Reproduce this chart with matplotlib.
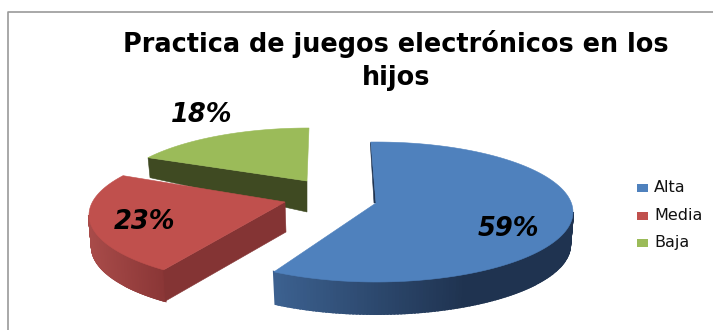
import numpy as np
import matplotlib
matplotlib.use('Agg')
import matplotlib.pyplot as plt
from matplotlib.colors import to_rgb

categories = ['Alta', 'Media', 'Baja']
values = [59, 23, 18]

colours = ['#4F81BD', '#C0504D', '#9BBB59']

# geometry of the exploded pie, in pixels
rx = 197
ry = 70
centres = [(376, 212), (286, 215), (309, 198)]
apexes = [(376, 203), (285, 202), (307, 181)]
depths = [33, 32, 31]
# screen angle correction for the perspective (start, end) in degrees
skew = [(-1.5, -1.2), (6, 9), (10, 0)]
wall_ends = [('#3C6190', '#1F3350'), ('#A84B49', '#8A3636'), ('#3F4A22', '#3F4A22')]
radial_colours = ['#1F3350', '#843434', '#3F4A22']
label_pos = [(508, 229), (145, 222), (202, 115)]


def arc(centre, t0, t1, scale=1.0, drop=0, n=120):
    t = np.radians(np.linspace(t0, t1, n))
    x = centre[0] + scale * rx * np.sin(t)
    y = centre[1] - scale * ry * np.cos(t) + drop
    return x, y


def outer_wall(ax, centre, t0, t1, depth, ends):
    # shade the curved side in narrow strips
    xa, ya = arc(centre, t0, t1)
    xb, yb = arc(centre, t0, t1, scale=0.985, drop=depth)
    c0 = np.array(to_rgb(ends[0]))
    c1 = np.array(to_rgb(ends[1]))
    lo, hi = xa.min(), min(xa.max(), centre[0] + 90)
    for i in range(len(xa) - 1):
        # darkest towards the right of the front edge
        f = np.clip((xa[i] - lo) / max(hi - lo, 1), 0, 1)
        c = c0 + (c1 - c0) * f
        ax.fill([xa[i], xa[i + 1], xb[i + 1], xb[i]],
                [ya[i], ya[i + 1], yb[i + 1], yb[i]],
                color=c, lw=1.5)


fig = plt.figure(figsize=(7.13, 3.30), dpi=100)
ax = fig.add_axes([0, 0, 1, 1])
ax.set_xlim(0, 713)
ax.set_ylim(330, 0)
ax.axis('off')

# chart frame
ax.plot([7.5, 7.5, 713], [330, 12, 12], color='#9A9A9A', lw=1.2)

# angles of each slice, clockwise from the top
edges = np.concatenate([[0], np.cumsum(values)]) / np.sum(values) * 360

order = [2, 1, 0]
for i in order:
    t0 = edges[i] + skew[i][0]
    t1 = edges[i + 1] + skew[i][1]
    c = centres[i]
    ap = apexes[i]
    d = depths[i]
    xs, ys = arc(c, t0, t1)

    if i == 2:
        # green slice shows its cut face towards the viewer
        ax.fill([xs[0], ap[0], ap[0], xs[0] + 2], [ys[0], ap[1], ap[1] + d, ys[0] + 20],
                color=radial_colours[i], lw=0.4)
    if i == 1:
        xb, yb = arc(c, t0, t1, scale=0.985, drop=d)
        outer_wall(ax, c, t0, 270, d, wall_ends[i])
        ax.fill([ap[0], xs[0], xb[0], ap[0] + 1], [ap[1], ys[0], yb[0], ap[1] + 30],
                color=radial_colours[i], lw=0.4)
    if i == 0:
        outer_wall(ax, c, 90, t1, d, wall_ends[i])
        ax.fill([xs[0], ap[0], ap[0] - 2, xs[0] - 0.5], [ys[0], ap[1], ap[1], ys[0] + 2],
                color=radial_colours[i], lw=0.4)

    ax.fill(np.r_[ap[0], xs], np.r_[ap[1], ys], color=colours[i], lw=0.4)

    ax.text(label_pos[i][0], label_pos[i][1], f'{values[i]}%', fontsize=18.5,
            family='DejaVu Sans', weight='bold', style='italic',
            ha='center', va='center', color='black')

# title
ax.text(396, 52, 'Practica de juegos electrónicos en los', fontsize=18.4,
        family='DejaVu Sans', weight='bold', ha='center', va='baseline', color='black')
ax.text(396, 85, 'hijos', fontsize=18.4,
        family='DejaVu Sans', weight='bold', ha='center', va='baseline', color='black')

# legend
legend_y = [188, 216, 243]
for name, col, y in zip(categories, colours, legend_y):
    ax.fill([637, 648, 648, 637], [y - 4, y - 4, y + 4, y + 4], color=col, lw=0)
    ax.text(654, y, name, fontsize=11.5, family='DejaVu Sans', ha='left', va='center',
            color='#111111')

fig.savefig('out.png', dpi=100)
